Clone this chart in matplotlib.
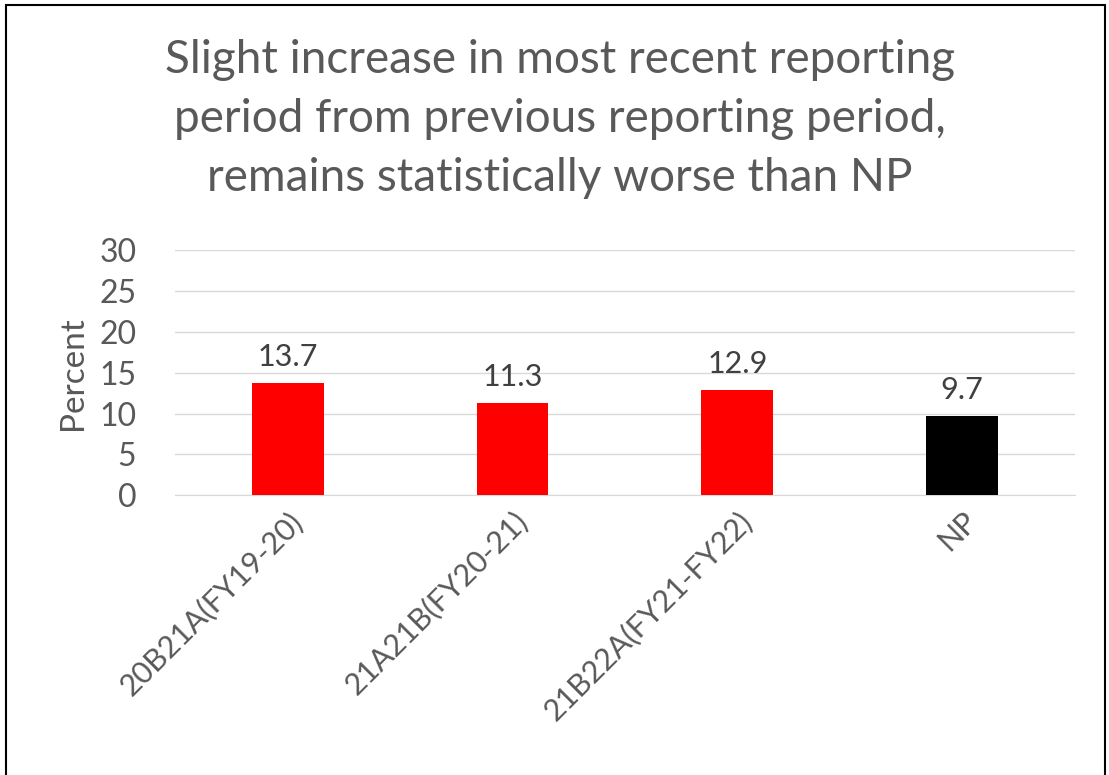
import matplotlib.pyplot as plt
from matplotlib.patches import Rectangle

categories = ["20B21A(FY19-20)", "21A21B(FY20-21)", "21B22A(FY21-FY22)", "NP"]
values = [13.7, 11.3, 12.9, 9.7]
bar_colors = ["#ff0000", "#ff0000", "#ff0000", "#000000"]
title = ("Slight increase in most recent reporting\n"
         "period from previous reporting period,\n"
         "remains statistically worse than NP")

plt.rcParams["font.family"] = ["Lato", "DejaVu Sans"]
text_color = "#595959"

fig = plt.figure(figsize=(11.09, 7.75), dpi=100)
ax = fig.add_axes([0.158, 0.361, 0.811, 0.316])

x = range(len(categories))
ax.bar(x, values, width=0.32, color=bar_colors, zorder=3)
for xi, v in zip(x, values):
    ax.text(xi, v + 1.5, f"{v}", ha="center", va="bottom",
            fontsize=22, color="#404040")

ax.set_ylim(0, 30)
ax.set_xlim(-0.5, len(categories) - 0.5)
ax.set_yticks(range(0, 31, 5))
ax.tick_params(axis="y", length=0, labelsize=23, labelcolor=text_color, pad=28)
ax.tick_params(axis="x", length=0, labelsize=22, labelcolor=text_color, pad=8)
ax.set_xticks(list(x))
ax.set_xticklabels(categories, rotation=45, ha="right", rotation_mode="anchor")
ax.grid(axis="y", color="#d9d9d9", linewidth=1, zorder=0)
for side in ["top", "right", "left"]:
    ax.spines[side].set_visible(False)
ax.spines["bottom"].set_color("#d9d9d9")
ax.set_ylabel("Percent", fontsize=24, color=text_color, labelpad=8)

fig.text(0.505, 0.95, title, ha="center", va="top", fontsize=33,
         color=text_color, linespacing=1.5)

fig.patches.append(Rectangle((0.005, -0.01), 0.991, 1.003, transform=fig.transFigure,
                             fill=False, edgecolor="black", linewidth=1.5))

fig.savefig("out.png", dpi=100)
